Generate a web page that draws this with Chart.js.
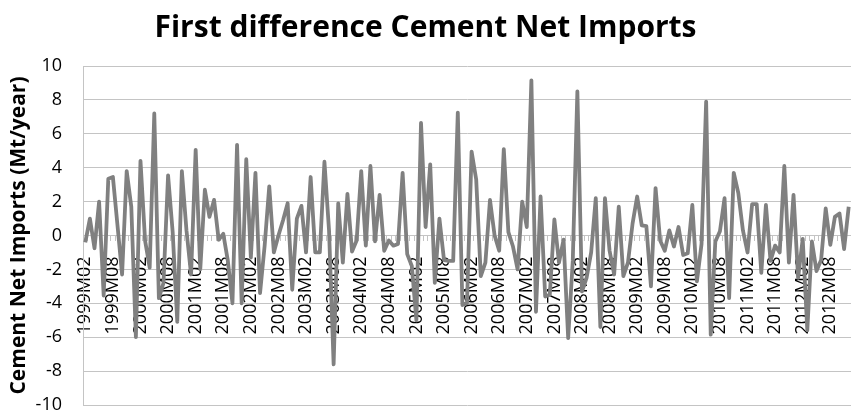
<!DOCTYPE html>
<html>
<head>
<meta charset="utf-8">
<script src="https://cdn.jsdelivr.net/npm/chart.js@4/dist/chart.umd.min.js"></script>
<style>
  html, body { margin: 0; padding: 0; background: #fff; }
  #wrap { width: 851px; height: 414px; }
</style>
</head>
<body>
<div id="wrap"><canvas id="chart"></canvas></div>
<script>
// monthly first differences, 1999M02 .. 2012M12
const startYear = 1999;
const startMonth = 2;
const netImportsDiff = [
  -0.4, 1.0, -0.75, 2.0, -3.55, 3.35, 3.45, 0.6, -2.3, 3.8, 1.7, -6.0,
  4.4, -0.3, -1.9, 7.2, -3.7, -2.8, 3.55, 0.2, -5.1, 3.8, 0.3, -2.3,
  5.05, -2.0, 2.7, 1.1, 2.1, -0.25, 0.1, -1.5, -4.0, 5.35, -4.0, 4.5,
  -1.3, 3.7, -3.4, -0.6, 2.9, -1.0, 0.0, 0.9, 1.9, -3.2, 1.0, 1.75,
  -1.0, 3.45, -1.0, -1.0, 4.35, 0.3, -7.6, 1.9, -1.6, 2.45, -0.95, -0.3,
  3.8, -0.6, 4.1, -0.35, 2.4, -0.9, -0.3, -0.6, -0.5, 3.7, -1.1, -1.8,
  -5.0, 6.65, 0.5, 4.2, -2.8, 1.0, -1.45, -1.5, -1.5, 7.25, -4.1, -4.0,
  4.95, 3.3, -2.4, -1.6, 2.1, 0.0, -0.9, 5.1, 0.2, -0.65, -2.0, 2.0,
  0.5, 9.15, -4.5, 2.3, -3.6, -3.5, 0.95, -1.6, -0.25, -6.05, -1.5, 8.5,
  -3.3, -2.5, -1.0, 2.2, -5.4, 2.2, -0.9, -2.3, 1.7, -2.4, -1.6, 0.7,
  2.3, 0.6, 0.55, -3.0, 2.8, -0.3, -0.9, 0.3, -0.65, 0.5, -1.15, -1.05,
  1.8, -2.7, -0.5, 7.9, -5.85, -0.35, 0.25, 2.2, -3.7, 3.7, 2.5, 0.3,
  -1.0, 1.85, 1.85, -2.2, 1.8, -1.5, -0.6, -1.0, 4.1, -1.6, 2.4, -2.5,
  -0.2, -5.6, -0.35, -2.1, -1.45, 1.6, -0.55, 1.1, 1.3, -0.8, 1.7
];
const yTicks = [-10, -8, -6, -4, -2, 0, 2, 4, 6, 8, 10];

const months = [];
for (let i = 0; i < netImportsDiff.length; i++) {
  const m = startMonth - 1 + i;
  const y = startYear + Math.floor(m / 12);
  const mm = (m % 12) + 1;
  months.push(y + 'M' + (mm < 10 ? '0' + mm : mm));
}

const gridColor = '#c4c4c4';

new Chart(document.getElementById('chart'), {
  type: 'line',
  data: {
    labels: months,
    datasets: [{
      data: netImportsDiff,
      borderColor: '#808080',
      borderWidth: 3.8,
      borderJoinStyle: 'round',
      pointRadius: 0,
      tension: 0,
      fill: false
    }]
  },
  options: {
    responsive: true,
    maintainAspectRatio: false,
    animation: false,
    layout: { padding: { top: 0, right: 0, bottom: 9, left: 0 } },
    plugins: {
      legend: { display: false },
      tooltip: { enabled: false },
      title: {
        display: true,
        text: 'First difference Cement Net Imports',
        color: '#000',
        font: { family: 'Open Sans', size: 30, weight: 'bold' },
        padding: { top: 10, bottom: 20 }
      }
    },
    scales: {
      x: {
        type: 'category',
        offset: true,
        position: { y: 0 },
        z: 1,
        afterFit: s => { s.height = 0; s.paddingLeft = 0; s.paddingRight = 0; },
        border: { display: true, color: gridColor, width: 1 },
        grid: { display: true, drawOnChartArea: false, drawTicks: true, tickLength: 5, color: gridColor, offset: true },
        ticks: {
          autoSkip: false,
          minRotation: 90,
          maxRotation: 90,
          padding: 16,
          color: '#000',
          font: { family: 'Open Sans', size: 18 },
          callback: function (val, idx) { return idx % 6 === 0 ? this.getLabelForValue(val) : ''; }
        }
      },
      y: {
        min: -10,
        max: 10,
        afterFit: s => { s.width = 83; s.paddingTop = 0; s.paddingBottom = 0; },
        afterBuildTicks: s => { s.ticks = yTicks.map(v => ({ value: v })); },
        border: { display: true, color: gridColor },
        grid: { color: gridColor, drawTicks: false },
        ticks: {
          padding: 21,
          color: '#000',
          font: { family: 'Open Sans', size: 18 }
        },
        title: {
          display: true,
          text: 'Cement Net Imports (Mt/year)',
          color: '#000',
          font: { family: 'Open Sans', size: 21, weight: 'bold' },
          padding: { top: 6, bottom: 0 }
        }
      }
    }
  }
});
</script>
</body>
</html>
